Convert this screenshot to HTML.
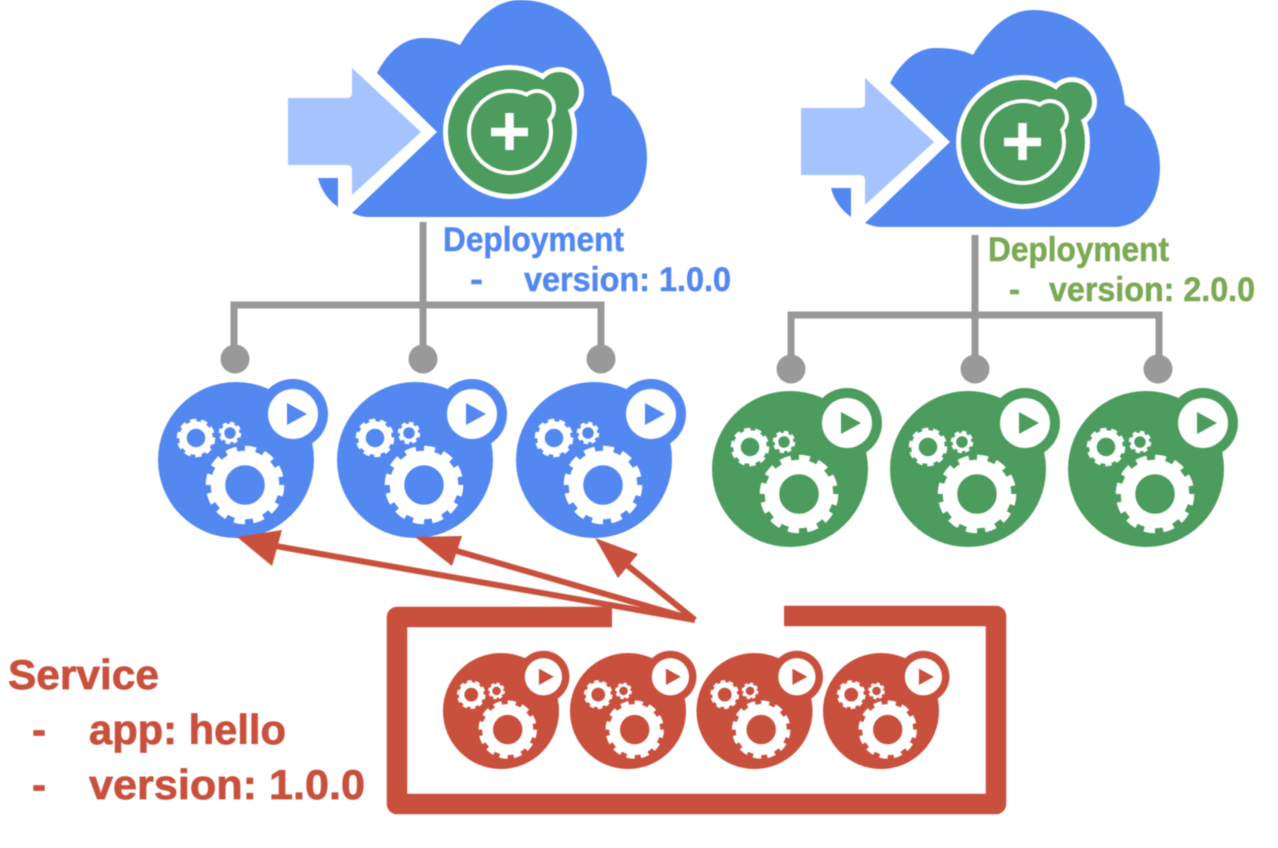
<!DOCTYPE html>
<html><head><meta charset="utf-8"><style>
html,body{margin:0;padding:0;background:#fff;width:1278px;height:848px;overflow:hidden}
svg{display:block;filter:blur(.45px)}
text{font-family:"Liberation Sans",sans-serif;font-weight:bold;stroke-linejoin:round}
</style></head><body>
<svg width="1278" height="848" viewBox="0 0 1278 848" xmlns="http://www.w3.org/2000/svg">
<defs>
<g id="pod">
  <circle r="78" fill="currentColor"/>
  <circle cx="57" cy="-46" r="35" fill="currentColor"/>
  <circle cx="57" cy="-46" r="25" fill="#fff"/>
  <path d="M51-57L71-46L51-35Z" fill="currentColor"/>
  <g fill="none" stroke="#fff">
    <circle cx="9" cy="25" r="27" stroke-width="14.5"/>
    <circle cx="9" cy="25" r="36" stroke-width="6.5" pathLength="24" stroke-dasharray="1.15 .85"/>
    <circle cx="-40" cy="-22" r="13" stroke-width="7.5"/>
    <circle cx="-40" cy="-22" r="17.5" stroke-width="3.5" pathLength="20" stroke-dasharray="1.15 .85"/>
    <circle cx="-6" cy="-27" r="7.5" stroke-width="3.5"/>
    <circle cx="-6" cy="-27" r="10" stroke-width="2.5" pathLength="16" stroke-dasharray="1.15 .85"/>
  </g>
</g>
<g id="cloud">
  <path d="M352 213L437 132L377 73C389 50 405 38 423 38C437 38 450 40 460 45C475 20 495 0 520 0C572 0 608 45 612 95C633 104 647 130 647 157C647 190 630 217 600 217H368C362 217 357 215 352 213Z" fill="#5388f1"/>
  <path d="M318 178H338V207C328 200 321 190 318 178Z" fill="#5388f1"/>
  <path d="M288 98H347Q352 98 352 93V68L421 132L352 195V170Q352 165 347 165H288Z" fill="#a5c3fd"/>
  <circle cx="510" cy="132" r="67" fill="#fff"/>
  <circle cx="559" cy="92" r="25" fill="#fff"/>
  <path d="M540 75L575 112L560 125L525 90Z" fill="#fff"/>
  <circle cx="510" cy="132" r="62" fill="#4c9c5d"/>
  <circle cx="559" cy="92" r="20" fill="#4c9c5d"/>
  <circle cx="510" cy="132" r="43" fill="#fff"/>
  <circle cx="537" cy="108" r="19" fill="#fff"/>
  <circle cx="510" cy="132" r="39" fill="#4c9c5d"/>
  <circle cx="537" cy="108" r="15" fill="#4c9c5d"/>
  <path d="M491 132H528M509.500 113V150" stroke="#fff" stroke-width="8.500" fill="none"/>
</g>
</defs>

<use href="#cloud"/>
<use href="#cloud" x="513" y="10"/>

<g fill="none" stroke="#999" stroke-width="7">
  <path d="M423 222V350M234 350V305H601V350"/>
  <path d="M975 235V360M791 360V315H1159V360"/>
</g>
<g fill="#999">
  <circle cx="235" cy="359" r="14.5"/><circle cx="423" cy="359" r="14.5"/><circle cx="601" cy="359" r="14.5"/>
  <circle cx="791" cy="369" r="14.5"/><circle cx="975" cy="369" r="14.5"/><circle cx="1158" cy="369" r="14.5"/>
</g>

<g style="color:#5388f1">
  <use href="#pod" x="236" y="460"/>
  <use href="#pod" x="415" y="460"/>
  <use href="#pod" x="594" y="460"/>
</g>
<g style="color:#4c9c5d">
  <use href="#pod" x="790" y="469"/>
  <use href="#pod" x="968" y="469"/>
  <use href="#pod" x="1146" y="469"/>
</g>
<g style="color:#c9503c">
  <use href="#pod" transform="translate(501 711) scale(.744)"/>
  <use href="#pod" transform="translate(628 711) scale(.744)"/>
  <use href="#pod" transform="translate(754.5 711) scale(.744)"/>
  <use href="#pod" transform="translate(881 711) scale(.744)"/>
</g>

<g fill="none" stroke="#c9503c">
  <path d="M612 617H397V804H996V616H784" stroke-width="20.5" stroke-linejoin="round"/>
  <path d="M695 620L270 545M695 620L450 549M695 620L622 561" stroke-width="6"/>
</g>
<g fill="#c9503c">
  <path d="M237 537L282 530L272 566Z"/>
  <path d="M415 537L462 536L452 566Z"/>
  <path d="M595 538L638 554L618 578Z"/>
</g>

<g fill="#5388f1" stroke="#5388f1" stroke-width=".5" font-size="34">
  <text x="443" y="251" textLength="181" lengthAdjust="spacingAndGlyphs">Deployment</text>
  <text x="470" y="291" textLength="13" lengthAdjust="spacingAndGlyphs">-</text>
  <text x="524" y="291" textLength="207" lengthAdjust="spacingAndGlyphs">version: 1.0.0</text>
</g>
<g fill="#7ba954" stroke="#7ba954" stroke-width=".5" font-size="34">
  <text x="988" y="261" textLength="181" lengthAdjust="spacingAndGlyphs">Deployment</text>
  <text x="1009" y="301" textLength="11" lengthAdjust="spacingAndGlyphs">-</text>
  <text x="1049" y="301" textLength="206" lengthAdjust="spacingAndGlyphs">version: 2.0.0</text>
</g>
<g fill="#c9503c" stroke="#c9503c" stroke-width=".7" font-size="42">
  <text x="8" y="689" textLength="151" lengthAdjust="spacingAndGlyphs">Service</text>
  <text x="32" y="744" textLength="14" lengthAdjust="spacingAndGlyphs">-</text>
  <text x="89" y="744" textLength="197" lengthAdjust="spacingAndGlyphs">app: hello</text>
  <text x="32" y="799" textLength="14" lengthAdjust="spacingAndGlyphs">-</text>
  <text x="89" y="799" textLength="276" lengthAdjust="spacingAndGlyphs">version: 1.0.0</text>
</g>
</svg>
</body></html>
